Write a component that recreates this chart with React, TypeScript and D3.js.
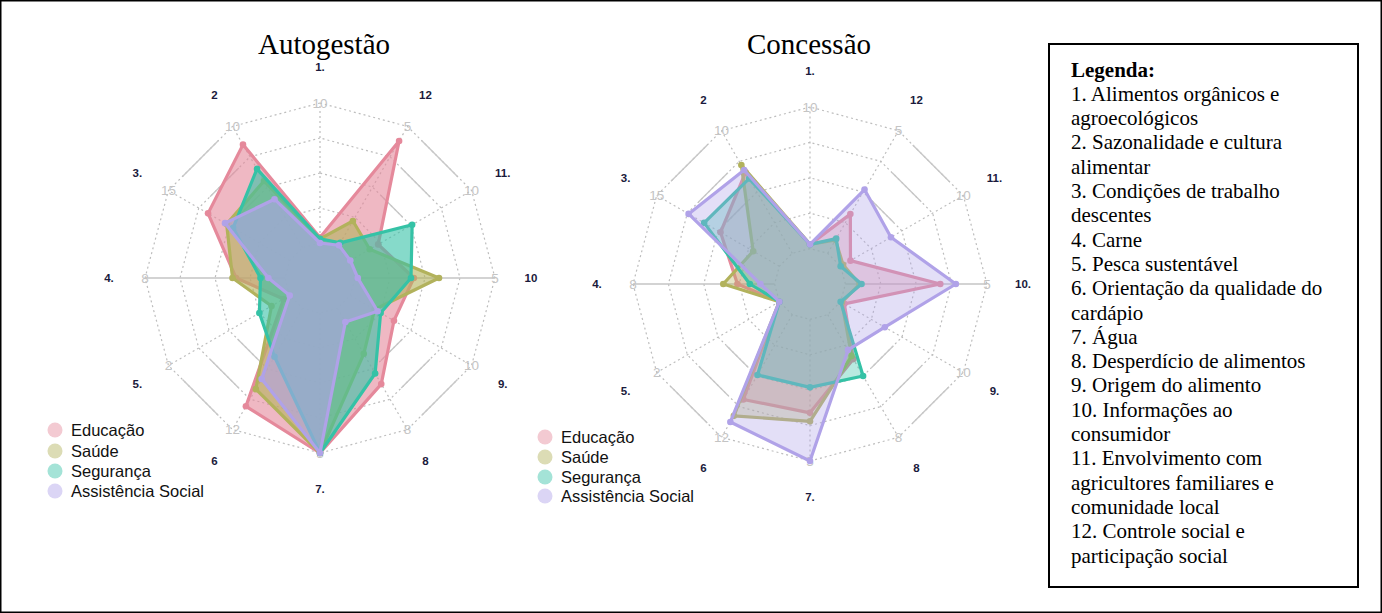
import React from "react";
import * as d3 from "d3";

// ---------- data ----------
const axisNumbersLeft = ["1.", "2", "3.", "4.", "5.", "6", "7.", "8", "9.", "10", "11.", "12"];
const axisNumbersRight = ["1.", "2", "3.", "4.", "5.", "6", "7.", "8", "9.", "10.", "11.", "12"];
const axisMax = [10, 10, 15, 8, 2, 12, 5, 8, 10, 5, 10, 5];

const seriesNames = ["Educação", "Saúde", "Segurança", "Assistência Social"];
const seriesColors = ["#E5899B", "#B2B25C", "#35C2A6", "#B0A2E8"];

// Autogestão (axes 1..12)
const autoEducacao = [0.4, 8.5, 10.1, 2.8, 0.1, 9.7, 5, 5.0, 3.6, 2.1, 2.3, 4.4];
const autoSaude = [0.3, 5.5, 7.8, 3.0, 0.3, 8.0, 5, 3.0, 2.0, 3.0, 1.6, 1.1];
const autoSeguranca = [0.3, 6.5, 7.0, 1.4, 0.5, 4.8, 5, 4.3, 2.5, 2.0, 5.1, 0.2];
const autoAssistencia = [0.0, 4.0, 8.0, 0.95, 0.0, 7.0, 5, 0.9, 2.25, 0.1, 0.0, 0.1];

// Concessão (axes 1..12)
const concEducacao = [0.3, 6.6, 7.2, 2.1, 0, 8.3, 3.3, 2.9, 0.3, 3.35, 0.8, 1.6];
const concSaude = [0.3, 7.2, 3.2, 2.9, 0, 9.9, 3.6, 2.7, 0.1, 0.5, 0.2, 0.55];
const concSeguranca = [0.3, 6.1, 9.2, 1.4, 0, 5.9, 2.4, 4.0, 0, 0.57, 0, 0.6];
const concAssistencia = [0.3, 6.8, 11.1, 0.8, 0, 10.5, 5, 2.3, 3.6, 3.9, 4.1, 2.6];

const legendTitle = "Legenda:";
const legendLines = [
  "1. Alimentos orgânicos e",
  "agroecológicos",
  "2. Sazonalidade e cultura",
  "alimentar",
  "3. Condições de trabalho",
  "descentes",
  "4. Carne",
  "5. Pesca sustentável",
  "6. Orientação da qualidade do",
  "cardápio",
  "7. Água",
  "8. Desperdício de alimentos",
  "9. Origem do alimento",
  "10. Informações ao",
  "consumidor",
  "11. Envolvimento com",
  "agricultores familiares e",
  "comunidade local",
  "12. Controle social e",
  "participação social",
];

// ---------- chart ----------
type RadarProps = {
  title: string;
  titleX: number;
  cx: number;
  cy: number;
  R: number;
  labels: string[];
  series: number[][];
  fillOpacity: number;
  legendX: number;
  legendY: number[];
};

const N = 12;
const angleOf = (i: number) => (-i * 2 * Math.PI) / N; // counter-clockwise from top
const levels = [0.2, 0.4, 0.6, 0.8, 1.0];
const SANS = "'Liberation Sans', Arial, sans-serif";
const SERIF = "'Liberation Serif', 'Times New Roman', serif";

function Radar({ title, titleX, cx, cy, R, labels, series, fillOpacity, legendX, legendY }: RadarProps) {
  const scales = axisMax.map((m) => d3.scaleLinear().domain([0, m]).range([0.2 * R, R]));
  const pt = (i: number, r: number) => {
    const a = angleOf(i);
    return [r * Math.sin(a), -r * Math.cos(a)];
  };
  const ringLine = d3
    .lineRadial<number>()
    .angle((_, i) => angleOf(i))
    .radius((d) => d)
    .curve(d3.curveLinearClosed);
  const dataLine = d3
    .lineRadial<number>()
    .angle((_, i) => angleOf(i))
    .radius((d, i) => scales[i](d))
    .curve(d3.curveLinearClosed);

  const grey = "#bdbdbd";
  const diagEdges = [1, 4, 7, 10];

  return (
    <g>
      <text x={titleX} y={54} textAnchor="middle" fontFamily={SERIF} fontSize={29} fill="#000">
        {title}
      </text>
      <g transform={`translate(${cx},${cy})`}>
        {levels.map((lv) => (
          <path
            key={"ring" + lv}
            d={ringLine(d3.range(N).map(() => lv * R)) || ""}
            fill="none"
            stroke={grey}
            strokeWidth={1.2}
            strokeDasharray="2,3"
          />
        ))}
        {d3.range(N).map((i) => {
          const [x1, y1] = pt(i, 0.2 * R);
          const [x2, y2] = pt(i, R);
          const solid = i === 3 || i === 9;
          return (
            <line
              key={"ax" + i}
              x1={x1}
              y1={y1}
              x2={x2}
              y2={y2}
              stroke={solid ? "#c4c4c4" : grey}
              strokeWidth={solid ? 1.6 : 1.2}
              strokeDasharray={solid ? undefined : "2,3"}
            />
          );
        })}
        {diagEdges.map((i) =>
          [0.6, 0.8, 1.0].map((lv) => {
            const [ax, ay] = pt(i, lv * R);
            const [bx, by] = pt(i + 1, lv * R);
            const t0 = 0.22,
              t1 = 0.78;
            return (
              <line
                key={"d" + i + "-" + lv}
                x1={ax + (bx - ax) * t0}
                y1={ay + (by - ay) * t0}
                x2={ax + (bx - ax) * t1}
                y2={ay + (by - ay) * t1}
                stroke="#c8c8c8"
                strokeWidth={1.4}
              />
            );
          })
        )}
        {axisMax.map((m, i) => {
          const [x, y] = pt(i, R);
          return (
            <text
              key={"mx" + i}
              x={x}
              y={y}
              textAnchor="middle"
              dominantBaseline="central"
              fontFamily={SANS}
              fontSize={13.5}
              fill="#c4c4c4"
            >
              {m}
            </text>
          );
        })}
        {labels.map((lb, i) => {
          const [x, y] = pt(i, R + 36);
          return (
            <text
              key={"lb" + i}
              x={x}
              y={y}
              textAnchor="middle"
              dominantBaseline="central"
              fontFamily={SANS}
              fontSize={11.5}
              fontWeight="bold"
              fill="#1a1a3c"
            >
              {lb}
            </text>
          );
        })}
        {series.map((vals, s) => (
          <g key={"s" + s}>
            <path
              d={dataLine(vals) || ""}
              fill={seriesColors[s]}
              fillOpacity={fillOpacity}
              stroke={seriesColors[s]}
              strokeWidth={3.2}
              strokeLinejoin="round"
            />
            {vals.map((v, i) => {
              const [x, y] = pt(i, scales[i](v));
              return <circle key={"p" + i} cx={x} cy={y} r={3.3} fill={seriesColors[s]} />;
            })}
          </g>
        ))}
      </g>
      {seriesNames.map((nm, s) => (
        <g key={"lg" + s}>
          <circle cx={legendX} cy={legendY[s]} r={7.5} fill={seriesColors[s]} fillOpacity={0.45} />
          <text
            x={legendX + 16}
            y={legendY[s]}
            dominantBaseline="central"
            fontFamily={SANS}
            fontSize={16.5}
            fill="#111"
          >
            {nm}
          </text>
        </g>
      ))}
    </g>
  );
}

export default function App() {
  const W = 1382,
    H = 613;
  return (
    <svg
      width={W}
      height={H}
      style={{ position: "absolute", left: 0, top: 0, background: "#fff" }}
    >
      <rect x={0.75} y={0.75} width={W - 1.5} height={H - 1.5} fill="#fff" stroke="#000" strokeWidth={1.5} />
      <Radar
        title="Autogestão"
        titleX={324}
        cx={320}
        cy={278}
        R={175}
        labels={axisNumbersLeft}
        series={[autoEducacao, autoSaude, autoSeguranca, autoAssistencia]}
        fillOpacity={0.6}
        legendX={55}
        legendY={[430, 451, 471, 491]}
      />
      <Radar
        title="Concessão"
        titleX={809}
        cx={810}
        cy={284}
        R={177}
        labels={axisNumbersRight}
        series={[concEducacao, concSaude, concSeguranca, concAssistencia]}
        fillOpacity={0.35}
        legendX={545}
        legendY={[437, 457, 477, 496]}
      />
      <rect x={1049} y={44} width={309} height={543} fill="#fff" stroke="#000" strokeWidth={2} />
      <text x={1071} y={76.5} fontFamily={SERIF} fontSize={21} fontWeight="bold" fill="#000">
        {legendTitle}
      </text>
      {legendLines.map((ln, k) => (
        <text key={"ll" + k} x={1071} y={76.5 + 24.3 * (k + 1)} fontFamily={SERIF} fontSize={21} fill="#000">
          {ln}
        </text>
      ))}
    </svg>
  );
}
